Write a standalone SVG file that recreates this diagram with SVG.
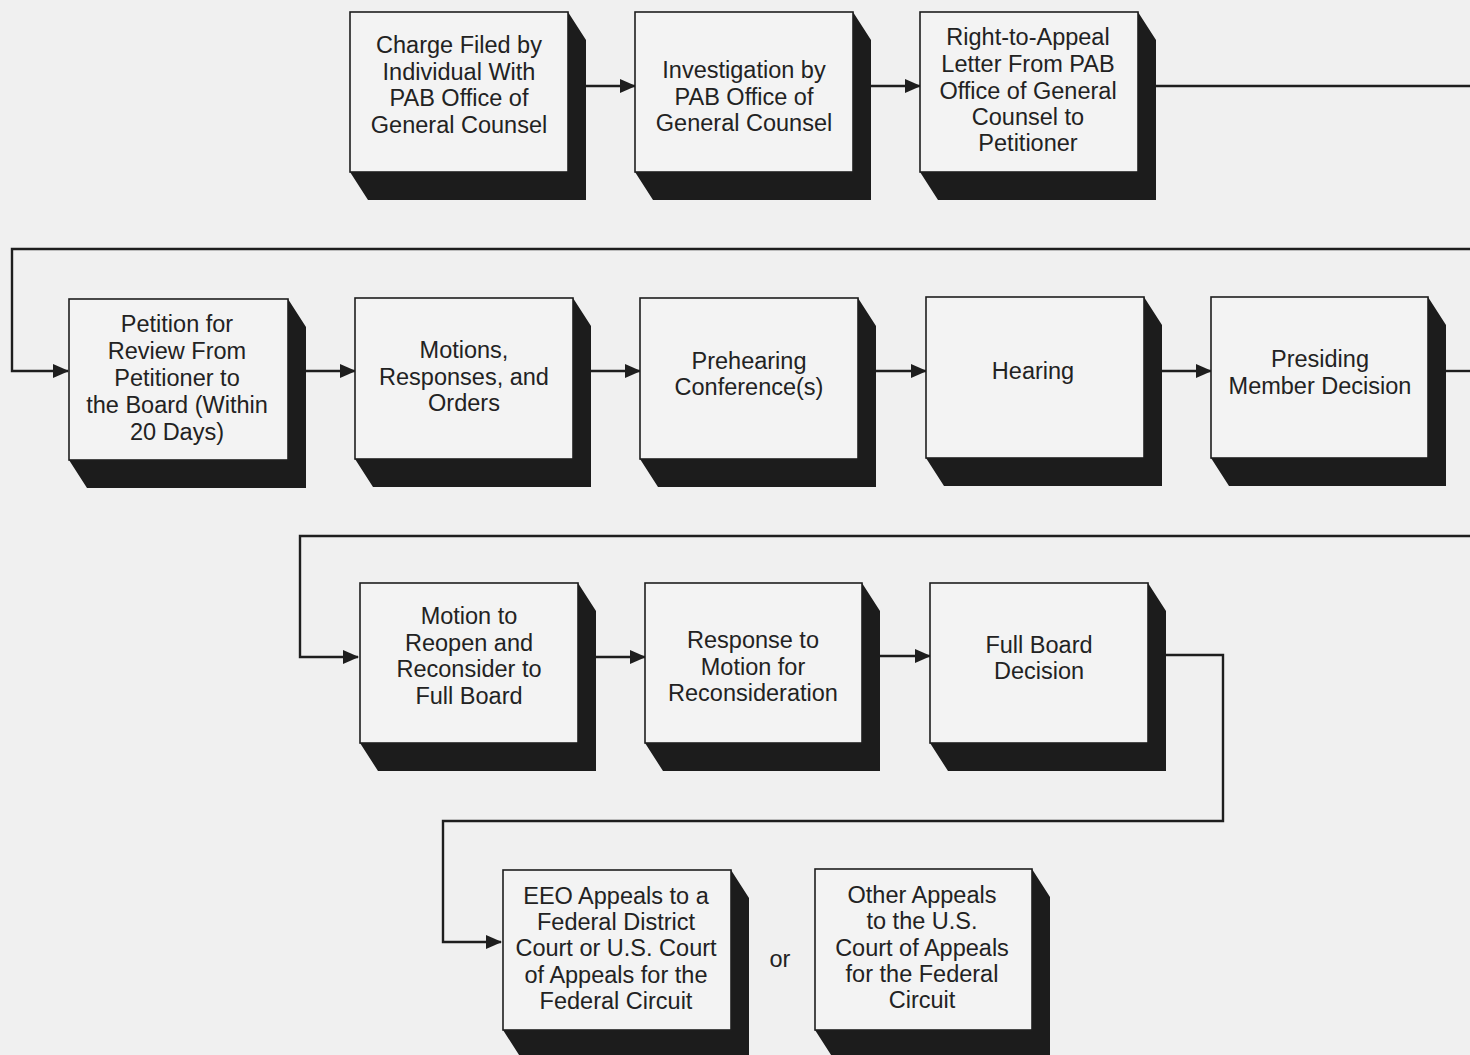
<svg xmlns="http://www.w3.org/2000/svg" width="1470" height="1055" viewBox="0 0 1470 1055">
<defs>
<style>
.face{fill:#f3f3f3;stroke:#1e1e1e;stroke-width:1.6}
.sh{fill:#1c1c1c}
.t{font-family:"Liberation Sans",Arial,sans-serif;font-size:23.5px;fill:#222;text-anchor:middle}
.c{fill:none;stroke:#1e1e1e;stroke-width:2.4}
</style>
<marker id="ah" markerUnits="userSpaceOnUse" markerWidth="16" markerHeight="14" refX="15" refY="7" orient="auto">
<path d="M0,0 L16,7 L0,14 Z" fill="#1e1e1e"/>
</marker>
</defs>
<rect x="0" y="0" width="1470" height="1055" fill="#f0f0f0"/>

<g id="connectors">
<line class="c" x1="586" y1="86" x2="635" y2="86" marker-end="url(#ah)"/>
<line class="c" x1="871" y1="86" x2="920" y2="86" marker-end="url(#ah)"/>
<polyline class="c" points="1156,86 1470,86"/>
<polyline class="c" points="1470,249 12,249 12,371 68,371" marker-end="url(#ah)"/>
<line class="c" x1="306" y1="371" x2="355" y2="371" marker-end="url(#ah)"/>
<line class="c" x1="591" y1="371" x2="640" y2="371" marker-end="url(#ah)"/>
<line class="c" x1="876" y1="371" x2="926" y2="371" marker-end="url(#ah)"/>
<line class="c" x1="1162" y1="371" x2="1211" y2="371" marker-end="url(#ah)"/>
<polyline class="c" points="1446,371 1470,371"/>
<polyline class="c" points="1470,536 300,536 300,657 358,657" marker-end="url(#ah)"/>
<line class="c" x1="596" y1="657" x2="645" y2="657" marker-end="url(#ah)"/>
<line class="c" x1="880" y1="656" x2="930" y2="656" marker-end="url(#ah)"/>
<polyline class="c" points="1166,655 1223,655 1223,821 443,821 443,942 501,942" marker-end="url(#ah)"/>
</g>

<g id="n1">
<polygon class="sh" points="568,12 586,40 586,200 368,200 350,172 568,172"/>
<rect class="face" x="350" y="12" width="218" height="160"/>
<text class="t" x="459" y="53">Charge Filed by</text>
<text class="t" x="459" y="79.5">Individual With</text>
<text class="t" x="459" y="106">PAB Office of</text>
<text class="t" x="459" y="132.5">General Counsel</text>
</g>
<g id="n2">
<polygon class="sh" points="853,12 871,40 871,200 653,200 635,172 853,172"/>
<rect class="face" x="635" y="12" width="218" height="160"/>
<text class="t" x="744" y="78">Investigation by</text>
<text class="t" x="744" y="104.5">PAB Office of</text>
<text class="t" x="744" y="131">General Counsel</text>
</g>
<g id="n3">
<polygon class="sh" points="1138,12 1156,40 1156,200 938,200 920,172 1138,172"/>
<rect class="face" x="920" y="12" width="218" height="160"/>
<text class="t" x="1028" y="45">Right-to-Appeal</text>
<text class="t" x="1028" y="72">Letter From PAB</text>
<text class="t" x="1028" y="99">Office of General</text>
<text class="t" x="1028" y="125">Counsel to</text>
<text class="t" x="1028" y="151">Petitioner</text>
</g>

<g id="n4">
<polygon class="sh" points="288,299 306,327 306,488 87,488 69,460 288,460"/>
<rect class="face" x="69" y="299" width="219" height="161"/>
<text class="t" x="177" y="332">Petition for</text>
<text class="t" x="177" y="359">Review From</text>
<text class="t" x="177" y="386">Petitioner to</text>
<text class="t" x="177" y="413">the Board (Within</text>
<text class="t" x="177" y="440">20 Days)</text>
</g>
<g id="n5">
<polygon class="sh" points="573,298 591,326 591,487 373,487 355,459 573,459"/>
<rect class="face" x="355" y="298" width="218" height="161"/>
<text class="t" x="464" y="358">Motions,</text>
<text class="t" x="464" y="385">Responses, and</text>
<text class="t" x="464" y="411">Orders</text>
</g>
<g id="n6">
<polygon class="sh" points="858,298 876,326 876,487 658,487 640,459 858,459"/>
<rect class="face" x="640" y="298" width="218" height="161"/>
<text class="t" x="749" y="369">Prehearing</text>
<text class="t" x="749" y="395">Conference(s)</text>
</g>
<g id="n7">
<polygon class="sh" points="1144,297 1162,325 1162,486 944,486 926,458 1144,458"/>
<rect class="face" x="926" y="297" width="218" height="161"/>
<text class="t" x="1033" y="379">Hearing</text>
</g>
<g id="n8">
<polygon class="sh" points="1428,297 1446,325 1446,486 1229,486 1211,458 1428,458"/>
<rect class="face" x="1211" y="297" width="217" height="161"/>
<text class="t" x="1320" y="367">Presiding</text>
<text class="t" x="1320" y="394">Member Decision</text>
</g>

<g id="n9">
<polygon class="sh" points="578,583 596,611 596,771 378,771 360,743 578,743"/>
<rect class="face" x="360" y="583" width="218" height="160"/>
<text class="t" x="469" y="624">Motion to</text>
<text class="t" x="469" y="651">Reopen and</text>
<text class="t" x="469" y="677">Reconsider to</text>
<text class="t" x="469" y="704">Full Board</text>
</g>
<g id="n10">
<polygon class="sh" points="862,583 880,611 880,771 663,771 645,743 862,743"/>
<rect class="face" x="645" y="583" width="217" height="160"/>
<text class="t" x="753" y="648">Response to</text>
<text class="t" x="753" y="675">Motion for</text>
<text class="t" x="753" y="701">Reconsideration</text>
</g>
<g id="n11">
<polygon class="sh" points="1148,583 1166,611 1166,771 948,771 930,743 1148,743"/>
<rect class="face" x="930" y="583" width="218" height="160"/>
<text class="t" x="1039" y="653">Full Board</text>
<text class="t" x="1039" y="679">Decision</text>
</g>

<g id="n12">
<polygon class="sh" points="731,870 749,898 749,1058 521,1058 503,1030 731,1030"/>
<rect class="face" x="503" y="870" width="228" height="160"/>
<text class="t" x="616" y="904">EEO Appeals to a</text>
<text class="t" x="616" y="930">Federal District</text>
<text class="t" x="616" y="956">Court or U.S. Court</text>
<text class="t" x="616" y="983">of Appeals for the</text>
<text class="t" x="616" y="1009">Federal Circuit</text>
</g>
<g id="or">
<text class="t" x="780" y="967">or</text>
</g>
<g id="n13">
<polygon class="sh" points="1032,869 1050,897 1050,1058 833,1058 815,1030 1032,1030"/>
<rect class="face" x="815" y="869" width="217" height="161"/>
<text class="t" x="922" y="903">Other Appeals</text>
<text class="t" x="922" y="929">to the U.S.</text>
<text class="t" x="922" y="956">Court of Appeals</text>
<text class="t" x="922" y="982">for the Federal</text>
<text class="t" x="922" y="1008">Circuit</text>
</g>
</svg>
